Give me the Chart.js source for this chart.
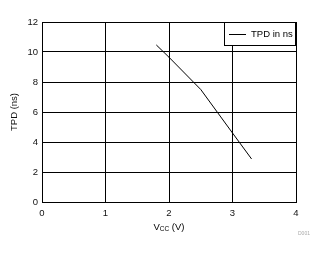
<!DOCTYPE html>
<html>
<head>
<meta charset="utf-8">
<script src="https://cdn.jsdelivr.net/npm/chart.js@4"></script>
<style>
  html, body { margin: 0; padding: 0; background: #fff; }
  #wrap { width: 325px; height: 254px; }
</style>
</head>
<body>
<div id="wrap"><canvas id="grafico" width="325" height="254"></canvas></div>
<script>
// datos
const vcc = [1.8, 2.0, 2.5, 3.0, 3.3];
const tpd = [10.47, 9.65, 7.5, 4.6, 2.87];
const serieNombre = "TPD in ns";
const ticksX = [0, 1, 2, 3, 4];
const ticksY = [0, 2, 4, 6, 8, 10, 12];

const fuente = "'Liberation Sans', Arial, sans-serif";

// leyenda con caja, titulo X con subindice y marca D001
const extras = {
  id: "extras",
  afterDraw(chart) {
    const ctx = chart.ctx;
    const area = chart.chartArea;
    ctx.save();

    // leyenda
    const bx = area.right - 72, by = area.top, bw = 72, bh = 24;
    ctx.fillStyle = "#fff";
    ctx.fillRect(bx, by, bw, bh);
    ctx.strokeStyle = "#000";
    ctx.lineWidth = 1;
    ctx.strokeRect(bx + 0.5, by + 0.5, bw - 1, bh - 1);
    ctx.beginPath();
    ctx.moveTo(bx + 5, by + 12.5);
    ctx.lineTo(bx + 22, by + 12.5);
    ctx.stroke();
    ctx.fillStyle = "#000";
    ctx.font = "9.5px " + fuente;
    ctx.textBaseline = "middle";
    ctx.textAlign = "left";
    ctx.fillText(serieNombre, bx + 27, by + 12.5);

    // titulo eje X: VCC (V)
    const cx = (area.left + area.right) / 2;
    const y = 230;
    ctx.textBaseline = "alphabetic";
    ctx.font = "9.5px " + fuente;
    const wV = ctx.measureText("V").width;
    const wR = ctx.measureText(" (V)").width;
    ctx.font = "6.5px " + fuente;
    const wCC = ctx.measureText("CC").width;
    let x = cx - (wV + wCC + wR) / 2;
    ctx.font = "9.5px " + fuente;
    ctx.fillText("V", x, y);
    ctx.font = "6.5px " + fuente;
    ctx.fillText("CC", x + wV, y + 1);
    ctx.font = "9.5px " + fuente;
    ctx.fillText(" (V)", x + wV + wCC, y);

    // marca
    ctx.fillStyle = "#aaa";
    ctx.font = "5px " + fuente;
    ctx.fillText("D001", 298, 235);
    ctx.restore();
  }
};

new Chart(document.getElementById("grafico"), {
  type: "scatter",
  data: {
    datasets: [{
      label: serieNombre,
      data: vcc.map((v, i) => ({ x: v, y: tpd[i] })),
      showLine: true,
      borderColor: "#000",
      borderWidth: 1,
      pointRadius: 0,
      tension: 0
    }]
  },
  options: {
    responsive: false,
    animation: false,
    layout: { padding: { left: 0, top: 22, right: 29, bottom: 0 } },
    plugins: {
      legend: { display: false },
      tooltip: { enabled: false }
    },
    scales: {
      x: {
        type: "linear",
        min: 0,
        max: 4,
        afterBuildTicks: s => { s.ticks = ticksX.map(v => ({ value: v })); },
        afterFit: s => { s.height = 52; },
        grid: { color: "#000", lineWidth: 1, drawTicks: false },
        border: { color: "#000", width: 1 },
        ticks: { padding: 6, color: "#111", font: { family: fuente, size: 9.5 } }
      },
      y: {
        type: "linear",
        min: 0,
        max: 12,
        afterBuildTicks: s => { s.ticks = ticksY.map(v => ({ value: v })); },
        afterFit: s => { s.width = 42; },
        grid: { color: "#000", lineWidth: 1, drawTicks: false },
        border: { color: "#000", width: 1 },
        ticks: { padding: 4, color: "#111", font: { family: fuente, size: 9.5 } },
        title: {
          display: true,
          text: "TPD (ns)",
          color: "#111",
          font: { family: fuente, size: 9.5 },
          padding: { top: 9, bottom: 0 }
        }
      }
    }
  },
  plugins: [extras]
});
</script>
</body>
</html>
